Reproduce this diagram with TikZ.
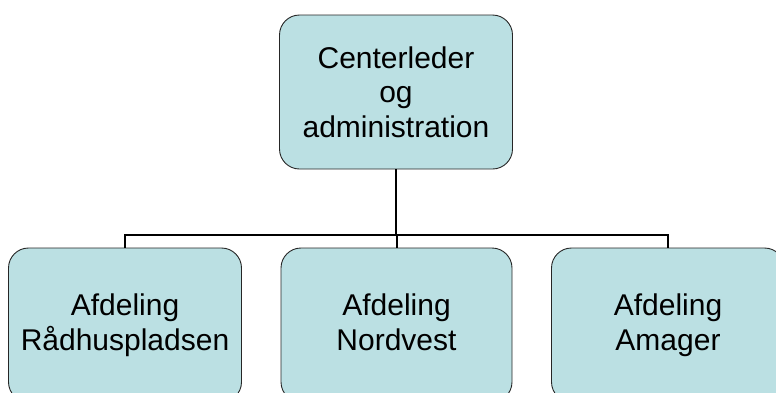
\documentclass[tikz,border=0pt]{standalone}
\usepackage{fontspec}
\setmainfont{Liberation Sans}
\usepackage{xcolor}
\usetikzlibrary{positioning,calc}
\definecolor{boxfill}{HTML}{BBE0E3}

\begin{document}
\begin{tikzpicture}[x=1pt,y=-1pt,
    unitbox/.style={draw=black!85, line width=0.9pt, fill=boxfill, rounded corners=20pt,
        minimum width=233pt, minimum height=154pt, inner sep=0pt, align=center,
        font=\fontsize{30}{34.5}\selectfont},
    link/.style={line width=2pt, black}]
    \useasboundingbox (0,0) rectangle (776,392);
    \clip (0,0) rectangle (776,392);

    % Top box
    \node [unitbox] (ctr) at (396,92) {Centerleder\\og\\administration};

    % Departments
    \node [unitbox] (raad) at (125,325) {Afdeling\\Rådhuspladsen};
    \node [unitbox, minimum width=231pt] (nord) at (396.5,325) {Afdeling\\Nordvest\vphantom{g}};
    \node [unitbox] (amag) at (668,325) {Afdeling\\Amager};

    % Connectors
    \coordinate (bus) at (ctr.south |- 0,235);
    \draw [link] (ctr.south) -- (bus);
    \draw [link] (bus) -| (raad.north);
    \draw [link] (bus) -| (amag.north);
    \draw [link] (bus) -- (bus -| nord.north) -- (nord.north);
\end{tikzpicture}
\end{document}
